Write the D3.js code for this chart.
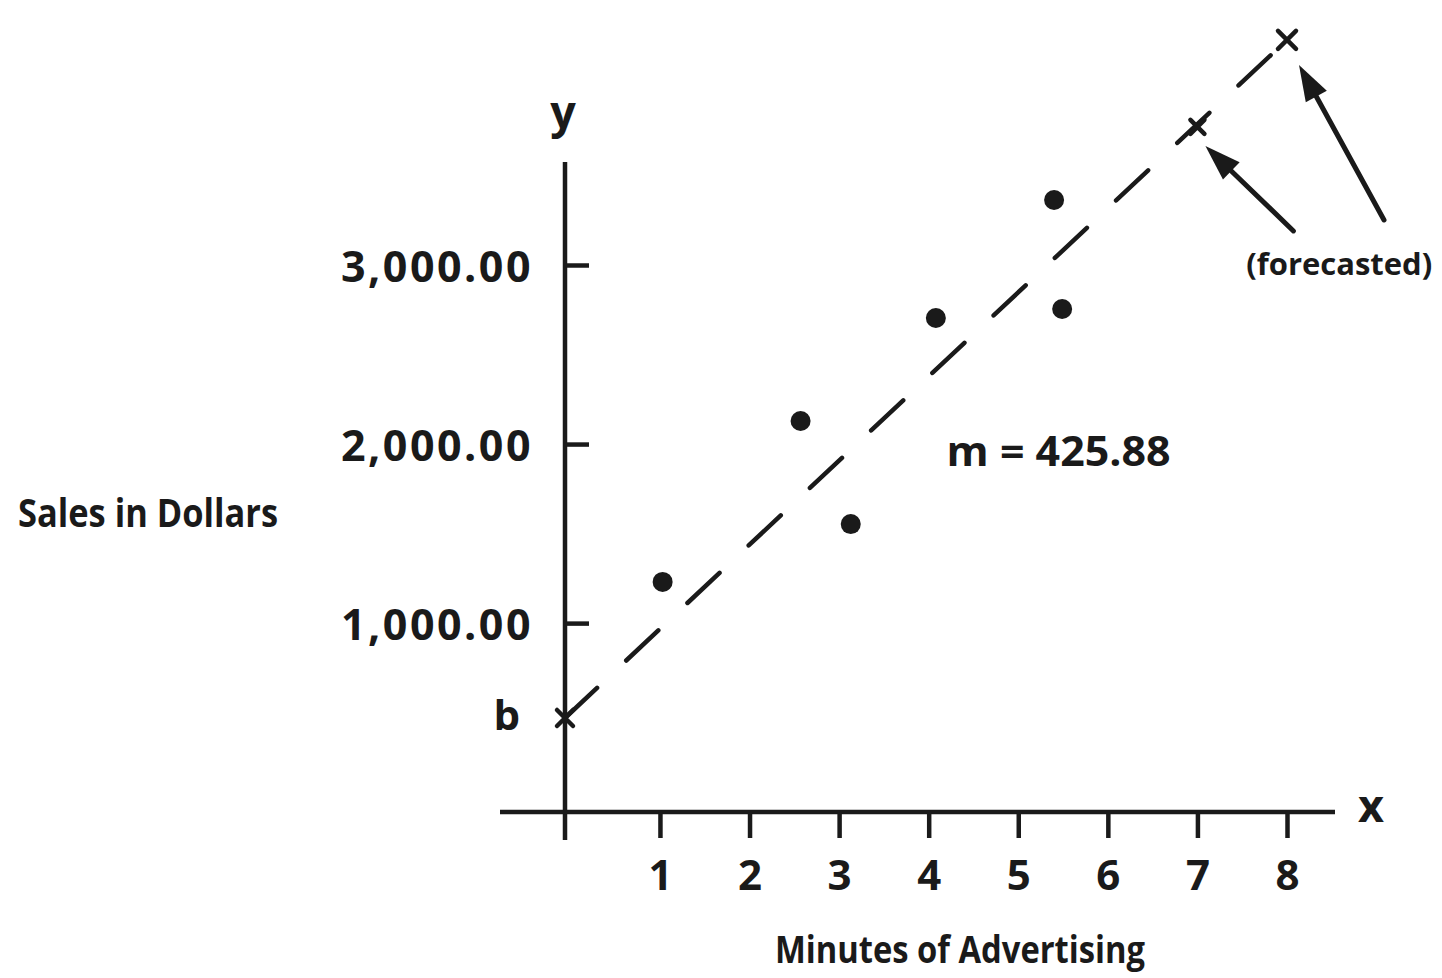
<!DOCTYPE html>
<html>
<head>
<meta charset="utf-8">
<script src="https://cdn.jsdelivr.net/npm/d3@7"></script>
<style>
  html, body { margin: 0; padding: 0; background: #fff; }
  svg { display: block; }
  text { font-family: "Open Sans", "Lato", sans-serif; font-weight: 700; fill: #1a1a1a; }
</style>
</head>
<body>
<svg id="chart" width="1442" height="978"></svg>
<script>
// ---- data ----
const minutes = [1.03, 2.57, 3.13, 4.08, 5.40, 5.49];
const sales = [1230, 2129, 1553, 2704, 3363, 2754];
const forecastMinutes = [7, 8];
const forecastSales = [3771, 4257];
const intercept = 470;
const slopeLabel = "m = 425.88";
const xTicks = [1, 2, 3, 4, 5, 6, 7, 8];
const yTicks = [1000, 2000, 3000];
const yTickLabels = ["1,000.00", "2,000.00", "3,000.00"];

const ink = "#1a1a1a";
const svg = d3.select("#chart");

const x = d3.scaleLinear().domain([-0.06, 8]).range([565, 1287]);
const y = d3.scaleLinear().domain([-55, 3000]).range([812, 265]);

const axisX = x.range()[0];
const axisY = y.range()[0];

// axis lines
svg.append("line").attr("x1", axisX).attr("x2", axisX).attr("y1", 162).attr("y2", 840)
  .attr("stroke", ink).attr("stroke-width", 4.5);
svg.append("line").attr("x1", 500).attr("x2", 1335).attr("y1", axisY).attr("y2", axisY)
  .attr("stroke", ink).attr("stroke-width", 4.5);

// y axis ticks
const gy = svg.append("g").attr("transform", `translate(${axisX},0)`)
  .call(d3.axisLeft(y).tickValues(yTicks).tickSize(-24).tickPadding(32)
    .tickFormat((d, i) => yTickLabels[i]));
gy.select(".domain").remove();
gy.selectAll(".tick line").attr("stroke", ink).attr("stroke-width", 4.5);
gy.selectAll(".tick text").attr("fill", ink).attr("font-size", 43)
  .attr("font-family", null).attr("dy", "0.38em").attr("letter-spacing", 2.5);

// x axis ticks
const gx = svg.append("g").attr("transform", `translate(0,${axisY})`)
  .call(d3.axisBottom(x).tickValues(xTicks).tickSize(26).tickFormat(d3.format("d")));
gx.select(".domain").remove();
gx.selectAll(".tick line").attr("stroke", ink).attr("stroke-width", 4.5);
gx.selectAll(".tick text").attr("fill", ink).attr("font-size", 42)
  .attr("font-family", null).attr("y", 78).attr("dy", 0);

// regression dashed line
const lineStartX = x.domain()[0];
const lineEndX = 8.14;
const slopePerUnit = (forecastSales[1] - intercept) / (forecastMinutes[1] - lineStartX);
svg.append("line")
  .attr("x1", x(lineStartX)).attr("y1", y(intercept))
  .attr("x2", x(lineEndX)).attr("y2", y(intercept + slopePerUnit * (lineEndX - lineStartX)))
  .attr("stroke", ink).attr("stroke-width", 4.5)
  .attr("stroke-dasharray", "44 40").attr("stroke-linecap", "round");

// data points
svg.append("g").selectAll("circle").data(minutes).join("circle")
  .attr("cx", d => x(d)).attr("cy", (d, i) => y(sales[i])).attr("r", 10).attr("fill", ink);

// cross markers (intercept and forecasts)
function cross(cx, cy, s) {
  svg.append("path")
    .attr("d", `M${cx - s},${cy - s}L${cx + s},${cy + s}M${cx - s},${cy + s}L${cx + s},${cy - s}`)
    .attr("stroke", ink).attr("stroke-width", 4.5).attr("stroke-linecap", "round");
}
cross(x(lineStartX), y(intercept), 8);
forecastMinutes.forEach((m, i) => cross(x(m), y(forecastSales[i]), i === 0 ? 7 : 9));

// arrows
function arrow(x1, y1, x2, y2) {
  const ang = Math.atan2(y2 - y1, x2 - x1);
  const L = 36, W = 12;
  const bx = x2 - L * Math.cos(ang), by = y2 - L * Math.sin(ang);
  svg.append("line").attr("x1", x1).attr("y1", y1).attr("x2", bx).attr("y2", by)
    .attr("stroke", ink).attr("stroke-width", 5).attr("stroke-linecap", "round");
  const px = -Math.sin(ang) * W, py = Math.cos(ang) * W;
  svg.append("path")
    .attr("d", `M${x2},${y2}L${bx + px},${by + py}L${bx - px},${by - py}Z`)
    .attr("fill", ink);
}
const f7x = x(forecastMinutes[0]), f7y = y(forecastSales[0]);
const f8x = x(forecastMinutes[1]), f8y = y(forecastSales[1]);
arrow(f7x + 96, f7y + 104, f7x + 8, f7y + 19);
arrow(f8x + 97, f8y + 180, f8x + 12, f8y + 25);

svg.append("text").attr("x", (f7x + f8x) / 2 + 97).attr("y", f7y + 148)
  .attr("text-anchor", "middle").attr("font-size", 31)
  .attr("textLength", 186).attr("lengthAdjust", "spacingAndGlyphs")
  .text("(forecasted)");

// labels
svg.append("text").attr("x", x(4.2)).attr("y", y(1877))
  .attr("font-size", 42).attr("textLength", 224).attr("lengthAdjust", "spacingAndGlyphs")
  .text(slopeLabel);

svg.append("text").attr("x", axisX - 45).attr("y", y(intercept) + 12)
  .attr("text-anchor", "end").attr("font-size", 42).text("b");

svg.append("text").attr("x", axisX - 2).attr("y", 128)
  .attr("text-anchor", "middle").attr("font-size", 45).text("y");
svg.append("text").attr("x", 1371).attr("y", axisY + 10)
  .attr("text-anchor", "middle").attr("font-size", 45).text("x");

svg.append("text").attr("x", 148).attr("y", 527)
  .attr("text-anchor", "middle").attr("font-size", 40)
  .attr("textLength", 260).attr("lengthAdjust", "spacingAndGlyphs")
  .text("Sales in Dollars");

svg.append("text").attr("x", 960).attr("y", 963)
  .attr("text-anchor", "middle").attr("font-size", 38)
  .attr("textLength", 370).attr("lengthAdjust", "spacingAndGlyphs")
  .text("Minutes of Advertising");
</script>
</body>
</html>
